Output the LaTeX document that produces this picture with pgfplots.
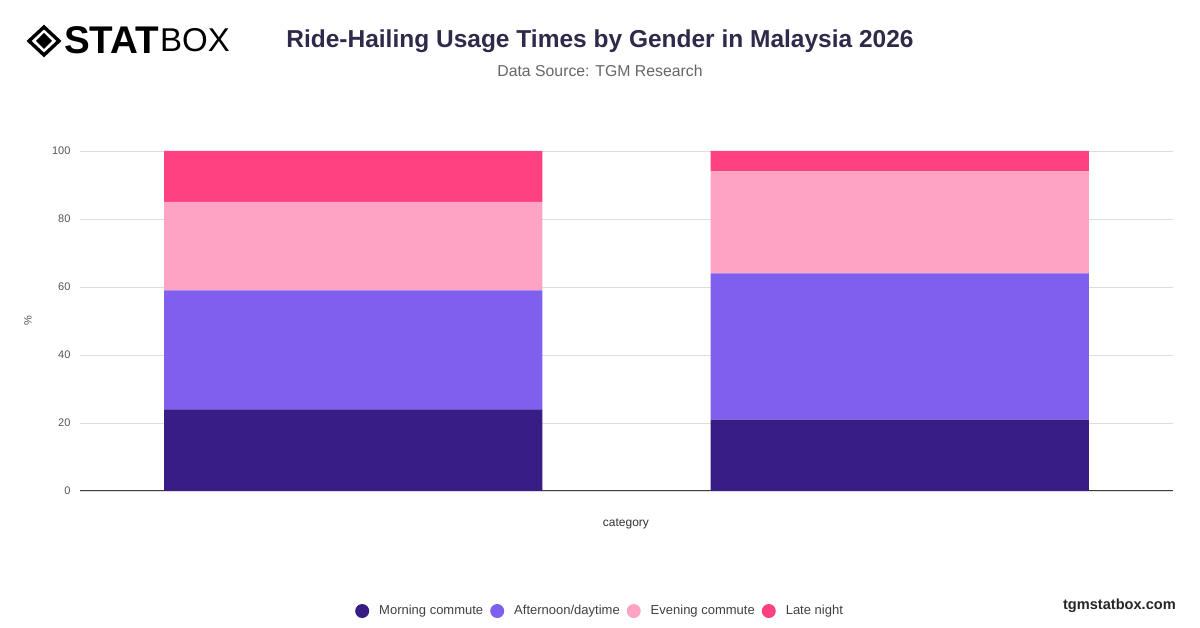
\documentclass[border=0pt]{standalone}
\usepackage{pgfplots}
\pgfplotsset{compat=1.18}
\usepackage{fontspec}
\setmainfont{Liberation Sans}
\definecolor{cMorning}{HTML}{381D87}
\definecolor{cAfternoon}{HTML}{7F5FEE}
\definecolor{cEvening}{HTML}{FEA3C3}
\definecolor{cLate}{HTML}{FF4081}
\definecolor{cTitle}{HTML}{2E2A4A}
\definecolor{cTick}{HTML}{555555}
\definecolor{cGrid}{HTML}{DDDDDD}
\begin{document}
\begin{tikzpicture}[x=1pt,y=1pt]
\path[use as bounding box] (0,0) rectangle (1200,628);
% logo
\begin{scope}[shift={(44,587)}]
\draw[black,line width=3.4pt,line join=miter] (0,14) -- (15,0) -- (0,-14) -- (-15,0) -- cycle;
\fill[black] (0,8) -- (8,0) -- (0,-8) -- (-8,0) -- cycle;
\end{scope}
\node[anchor=west,inner sep=0pt] at (64,588) {\resizebox{95pt}{!}{\fontsize{35}{35}\selectfont\bfseries STAT}};
\node[anchor=west,inner sep=0pt] at (160,588) {\fontsize{33}{33}\selectfont BOX};
% title
\node[anchor=center,inner sep=0pt,text=cTitle] at (600,587) {\fontsize{24.5}{26}\selectfont\bfseries Ride-Hailing Usage Times by Gender in Malaysia 2026};
\node[anchor=center,inner sep=0pt,text=black!60] at (600,557) {\fontsize{15.8}{17}\selectfont Data Source: TGM Research};
\node[anchor=east,inner sep=0pt,text=black!85] at (1176,22) {\fontsize{14.6}{16}\selectfont\bfseries tgmstatbox.com};
\begin{axis}[
  at={(80pt,137pt)}, anchor=south west,
  scale only axis, width=1093pt, height=340pt,
  ybar stacked, bar width=378pt,
  xmin=-0.5, xmax=1.5, ymin=0, ymax=100,
  xtick=\empty,
  ytick={0,20,40,60,80,100},
  ymajorgrids, major grid style={cGrid,line width=0.8pt},
  axis lines=left, axis line style={-},
  y axis line style={draw=none},
  x axis line style={black!75,line width=1pt},
  major tick length=0pt,
  /pgf/number format/assume math mode=true,
  yticklabel style={font=\fontsize{11}{12}\selectfont, text=cTick, xshift=-6pt},
  ylabel={\%},
  ylabel style={at={(axis description cs:-0.0476,0.5)}, anchor=center, font=\fontsize{11}{12}\selectfont, text=cTick},
  xlabel={category},
  xlabel style={at={(axis description cs:0.4995,-0.097)}, anchor=center, font=\fontsize{12}{13}\selectfont, text=black!80},
  legend columns=4,
  legend style={at={(axis description cs:0.4758,-0.353)}, anchor=center, draw=none, fill=none,
    font=\fontsize{13}{14}\selectfont, text=black!75,
    /tikz/every even column/.append style={column sep=5pt},
    /tikz/every odd column/.append style={column sep=8pt}},
  legend image code/.code={\fill[#1,draw=none] (3pt,0pt) circle (7pt);},
]
\addplot[fill=cMorning,draw=none] coordinates {(0,24) (1,21)};
\addplot[fill=cAfternoon,draw=none] coordinates {(0,35) (1,43)};
\addplot[fill=cEvening,draw=none] coordinates {(0,26) (1,30)};
\addplot[fill=cLate,draw=none] coordinates {(0,15) (1,6)};
\legend{Morning commute,Afternoon/daytime,Evening commute,Late night}
\end{axis}
\end{tikzpicture}
\end{document}
